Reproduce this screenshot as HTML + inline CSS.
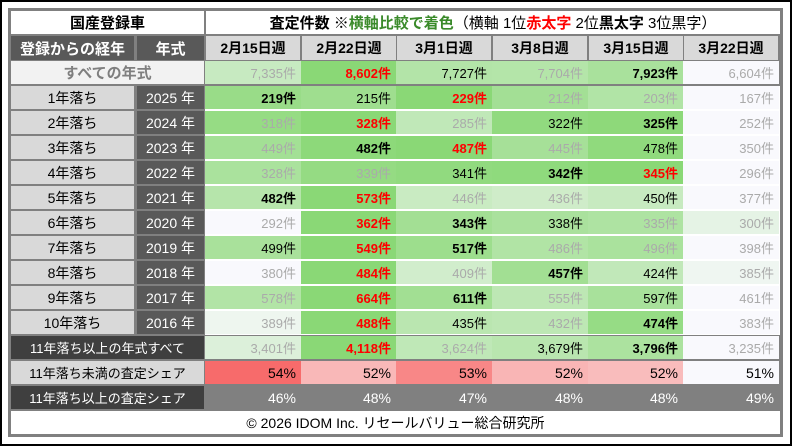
<!DOCTYPE html>
<html><head><meta charset="utf-8"><style>
body{margin:0;width:792px;height:446px;overflow:hidden;background:#fff;font-family:"Liberation Sans","Noto Sans CJK JP",sans-serif;}
#f{position:absolute;left:0;top:0;width:788px;height:442px;border:2px solid #000;}
.c{position:absolute;box-sizing:border-box;display:flex;align-items:center;white-space:nowrap;font-size:13px;}
</style></head><body>
<div id="f"></div>
<div id="root"></div>
<script>
const R=document.getElementById('root');
function cell(x,y,w,h,bg,txt,st){const d=document.createElement('div');d.className='c';d.style.cssText=`left:${x}px;top:${y}px;width:${w}px;height:${h}px;background:${bg};`+(st||'');d.innerHTML=txt||'';R.appendChild(d);return d;}
cell(8,8,775,429,'#808080');
cell(205,86,575,249,'#fff');
cell(11,11,193,23,'#fff','国産登録車','justify-content:center;font-weight:bold;font-size:15px;');
cell(206,11,574,23,'#fff','','justify-content:center;font-size:15px;');
R.lastChild.innerHTML='<span style="font-weight:bold">査定件数 ※</span><span style="color:#3a8a2a;font-weight:bold">横軸比較で着色</span><span style="font-weight:normal">（横軸 1位<b style="color:#f00">赤太字</b> 2位<b>黒太字</b> 3位黒字）</span>';
cell(11,36,123,24,'#595959','登録からの経年','justify-content:center;color:#fff;font-weight:bold;font-size:15px;');
cell(137,36,67,24,'#595959','年式','justify-content:center;color:#fff;font-weight:bold;font-size:15px;');
const W=574/6, X0=206;
const heads=['2月15日週','2月22日週','3月1日週','3月8日週','3月15日週','3月22日週'];
heads.forEach((h,i)=>cell(Math.round(X0+W*i),36,Math.round(W)-2,24,'#d9d9d9',h,'justify-content:center;font-weight:bold;font-size:14px;'));
cell(11,61,193,23,'#f2f2f2','すべての年式','justify-content:center;color:#7f7f7f;font-weight:bold;font-size:15px;');
const data=[
[7335,8602,7727,7704,7923,6604],
[219,215,229,212,203,167],[318,328,285,322,325,252],[449,482,487,445,478,350],[328,339,341,342,345,296],
[482,573,446,436,450,377],[292,362,343,338,335,300],[499,549,517,486,496,398],[380,484,409,457,424,385],
[578,664,611,555,597,461],[389,488,435,432,474,383],[3401,4118,3624,3679,3796,3235]];
function mix(t){const a=[249,249,253],b=[138,216,118];return `rgb(${a.map((v,i)=>Math.round(v+(b[i]-v)*t)).join(',')})`;}
function fmt(n){return n.toLocaleString('en-US')+'件';}
function drow(vals,y,h){const s=[...vals].sort((a,b)=>b-a);const mn=s[5],mx=s[0];
 vals.forEach((v,i)=>{const r=s.indexOf(v);let st='justify-content:flex-end;padding-right:5px;font-size:13px;';
  if(r==0)st+='color:#f00;font-weight:bold;';else if(r==1)st+='color:#000;font-weight:bold;';else if(r==2)st+='color:#000;';else st+='color:#aaa;';
  const x=Math.round(X0+W*i-1);cell(x,y,Math.round(X0+W*(i+1)-1)-x,h,mix(Math.pow((v-mn)/(mx-mn),0.8)),fmt(v),st);});}
drow(data[0],61,23);
for(let k=0;k<10;k++){const y=86+25*k;
 cell(11,y,123,23,'#d9d9d9',(k+1)+'年落ち','justify-content:center;font-size:14px;');
 cell(137,y,67,23,'#595959',(2025-k)+' 年','justify-content:center;color:#fff;font-size:14px;');
 drow(data[k+1],y,23);}
cell(11,336,193,23,'#3f3f3f','11年落ち以上の年式すべて','justify-content:center;color:#fff;font-size:13px;');
drow(data[11],336,23);
cell(11,361,193,23,'#d9d9d9','11年落ち未満の査定シェア','justify-content:center;font-size:13px;');
const sh=[54,52,53,52,52,51],sc=['#f76b6b','#f9b8b8','#f88787','#f9b5b5','#f9bcbc','#f9f9fd'];
sh.forEach((v,i)=>{const x=Math.round(X0+W*i-1);cell(x,361,Math.round(X0+W*(i+1)-1)-x,23,sc[i],v+'%','justify-content:flex-end;padding-right:5px;font-size:14px;');});
cell(11,386,193,23,'#3f3f3f','11年落ち以上の査定シェア','justify-content:center;color:#fff;font-size:13px;');
[46,48,47,48,48,49].forEach((v,i)=>{const x=Math.round(X0+W*i-1);cell(x,386,Math.round(X0+W*(i+1)-1)-x,23,'#808080',v+'%','justify-content:flex-end;padding-right:5px;color:#fff;font-size:14px;');});
cell(11,411,769,23,'#fff','© 2026 IDOM Inc. リセールバリュー総合研究所','justify-content:center;font-size:14px;');
</script>
</body></html>
